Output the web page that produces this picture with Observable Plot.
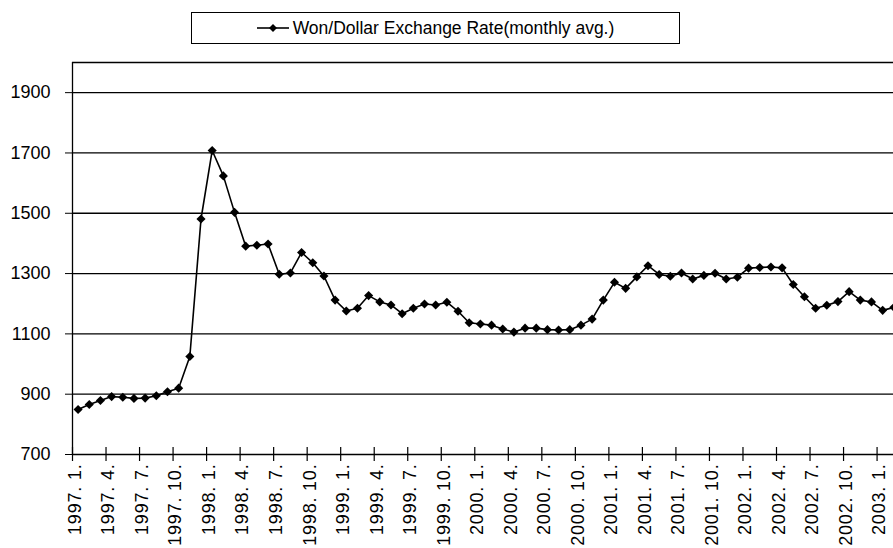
<!DOCTYPE html>
<html><head><meta charset="utf-8">
<script src="https://cdn.jsdelivr.net/npm/d3@7"></script>
<script src="https://cdn.jsdelivr.net/npm/@observablehq/plot@0.6"></script>
<style>
html,body{margin:0;padding:0;background:#fff;}
body{width:893px;height:548px;overflow:hidden;font-family:"Liberation Sans",Arial,sans-serif;}
#legend-wrap{position:relative;height:58px;}
#legend{position:absolute;left:191px;top:12px;width:487px;height:30px;border:1.5px solid #000;display:flex;align-items:center;justify-content:center;font-size:17.5px;color:#000;}
#legend svg{margin-right:4px;}
#chart svg text{font-family:"Liberation Sans",Arial,sans-serif;fill:#000;}
#chart svg g[aria-label="text"] text{letter-spacing:0.8px;}
</style></head><body>
<div id="legend-wrap"><div id="legend"><svg width="32" height="12"><line x1="0" y1="6" x2="32" y2="6" stroke="#000" stroke-width="1.6"/><path d="M16,2L20,6L16,10L12,6Z" fill="#000"/></svg><span id="legend-label"></span></div></div>
<div id="chart"></div>
<script>
const seriesName = "Won/Dollar Exchange Rate(monthly avg.)";

// Monthly categories 1997.1 .. 2003.2 (index 1..74)
const months = [
  "1997. 1.","1997. 2.","1997. 3.","1997. 4.","1997. 5.","1997. 6.","1997. 7.","1997. 8.","1997. 9.","1997. 10.","1997. 11.","1997. 12.",
  "1998. 1.","1998. 2.","1998. 3.","1998. 4.","1998. 5.","1998. 6.","1998. 7.","1998. 8.","1998. 9.","1998. 10.","1998. 11.","1998. 12.",
  "1999. 1.","1999. 2.","1999. 3.","1999. 4.","1999. 5.","1999. 6.","1999. 7.","1999. 8.","1999. 9.","1999. 10.","1999. 11.","1999. 12.",
  "2000. 1.","2000. 2.","2000. 3.","2000. 4.","2000. 5.","2000. 6.","2000. 7.","2000. 8.","2000. 9.","2000. 10.","2000. 11.","2000. 12.",
  "2001. 1.","2001. 2.","2001. 3.","2001. 4.","2001. 5.","2001. 6.","2001. 7.","2001. 8.","2001. 9.","2001. 10.","2001. 11.","2001. 12.",
  "2002. 1.","2002. 2.","2002. 3.","2002. 4.","2002. 5.","2002. 6.","2002. 7.","2002. 8.","2002. 9.","2002. 10.","2002. 11.","2002. 12.",
  "2003. 1.","2003. 2."
];

const rates = [
  849, 866, 879, 892, 890, 886, 887, 895, 908, 920, 1025, 1481,
  1708, 1624, 1503, 1391, 1394, 1398, 1298, 1302, 1370, 1336, 1292, 1212,
  1176, 1185, 1227, 1206, 1196, 1167, 1185, 1199, 1196, 1205, 1175, 1137,
  1133, 1129, 1116, 1106, 1119, 1119, 1114, 1113, 1114, 1129, 1149, 1212,
  1271, 1251, 1289, 1326, 1297, 1291, 1302, 1282, 1294, 1301, 1282, 1288,
  1318, 1320, 1322, 1319, 1264, 1223, 1185, 1195, 1207, 1240, 1212, 1206,
  1178, 1188
];

const tickLabels = ["1997. 1.","1997. 4.","1997. 7.","1997. 10.","1998. 1.","1998. 4.","1998. 7.","1998. 10.",
  "1999. 1.","1999. 4.","1999. 7.","1999. 10.","2000. 1.","2000. 4.","2000. 7.","2000. 10.",
  "2001. 1.","2001. 4.","2001. 7.","2001. 10.","2002. 1.","2002. 4.","2002. 7.","2002. 10.","2003. 1."];

const yTicks = [700, 900, 1100, 1300, 1500, 1700, 1900];
const yTop = 2000;

document.getElementById("legend-label").textContent = seriesName;

const data = months.map((m, i) => ({idx: i + 1, month: m, rate: rates[i]}));
const labelData = tickLabels.map(l => ({idx: months.indexOf(l) + 1, label: l}));
const boundaries = labelData.map(d => d.idx - 0.5);

const chart = Plot.plot({
  width: 893,
  height: 490,
  marginLeft: 72,
  marginRight: 0,
  marginTop: 4,
  marginBottom: 94,
  x: {type: "linear", domain: [0.5, 73.97], axis: null},
  y: {domain: [700, yTop], axis: null},
  marks: [
    Plot.ruleY([...yTicks, yTop], {stroke: "#000", strokeWidth: 1.3}),
    Plot.ruleX([0.5], {y1: 700, y2: yTop, stroke: "#000", strokeWidth: 1.3}),
    Plot.ruleX(boundaries, {x: d => d, y1: 700, y2: 700, insetTop: -7, insetBottom: -7, stroke: "#000", strokeWidth: 1.2}),
    Plot.axisY({ticks: yTicks, tickSize: 7, tickPadding: 15, fontSize: 18, tickFormat: d => `${d}`, label: null, stroke: "#000"}),
    Plot.text(labelData, {x: "idx", frameAnchor: "bottom", text: "label", rotate: -90, textAnchor: "end", lineAnchor: "middle", dy: 9, dx: -3, fontSize: 18, fill: "#000"}),
    Plot.lineY(data, {x: "idx", y: "rate", stroke: "#000", strokeWidth: 1.6, clip: true}),
    Plot.dot(data, {x: "idx", y: "rate", symbol: "diamond2", r: 4.1, fill: "#000", stroke: "none", clip: true})
  ]
});
document.getElementById("chart").appendChild(chart);
</script>
</body></html>
